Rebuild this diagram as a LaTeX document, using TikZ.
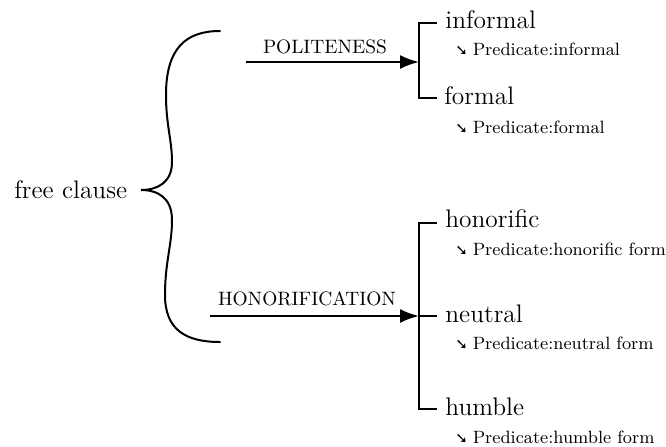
\documentclass[tikz,border=0pt]{standalone}
\usepackage{fontspec}
\newfontfamily\symfont{DejaVu Sans}
\usetikzlibrary{arrows.meta}

\tikzset{
  unit/.style={x=0.5pt, y=-0.5pt},
  term/.style={inner sep=0pt, anchor=base west, font=\fontsize{12.7}{14}\selectfont},
  sub/.style={inner sep=0pt, anchor=base west, font=\fontsize{8.9}{10}\selectfont},
  feature/.style={inner sep=0pt, anchor=base, font=\fontsize{9.7}{11}\selectfont},
  rule/.style={line width=1pt, line cap=butt, line join=miter},
  choice/.style={line width=1pt, -{Latex[length=9.5pt, width=7pt]}},
  brace/.style={line width=1pt, line cap=round}
}
\newcommand{\realiz}{{\symfont\fontsize{7.5}{7.5}\selectfont ➘}\hspace{2.4pt}}

\begin{document}
\begin{tikzpicture}[unit]
  \useasboundingbox (0,0) rectangle (666,446);

  % entry condition
  \node[term] (fc) at (14,198) {free clause};

  % the curly brace joining the two simultaneous systems
  \coordinate (tip) at (141,190);
  \coordinate (btop) at (220,31);
  \coordinate (bbot) at (220,342);
  \draw[brace] (btop)
      .. controls (186,31) and (166,48) .. (166,95)
      .. controls (166,125) and (172,140) .. (172,162)
      .. controls (172,182) and (158,190) .. (tip)
      .. controls (158,190) and (172,198) .. (172,220)
      .. controls (172,245) and (165,262) .. (165,295)
      .. controls (165,330) and (186,342) .. (bbot);

  % POLITENESS system
  \coordinate (p0) at (246,62);
  \coordinate (p1) at (419,62);
  \draw[choice] (p0) -- (p1);
  \node[feature] (pol) at (325,53) {POLITENESS};

  \coordinate (pt) at (419,23);
  \coordinate (pb) at (419,98);
  \draw[rule] (437,23) -- (pt) -- (pb) -- (437,98);
  \node[term] (inf) at (445,28) {informal};
  \node[sub] (infr) at (455,55) {\realiz Predicate:informal};
  \node[term] (frm) at (444,104) {formal};
  \node[sub] (frmr) at (455,133) {\realiz Predicate:formal};

  % HONORIFICATION system
  \coordinate (h0) at (210,316);
  \coordinate (h1) at (419,316);
  \draw[choice] (h0) -- (h1);
  \node[feature] (hon) at (307,305) {HONORIFICATION};

  \coordinate (ht) at (419,223);
  \coordinate (hb) at (419,409);
  \draw[rule] (437,223) -- (ht) -- (hb) -- (437,409);
  \draw[rule] (h1) -- (437,316);
  \node[term] (hnr) at (445,227) {honorific};
  \node[sub] (hnrr) at (455,255) {\realiz Predicate:honorific form};
  \node[term] (ntr) at (445,322) {neutral};
  \node[sub] (ntrr) at (455,349) {\realiz Predicate:neutral form};
  \node[term] (hmb) at (445,415) {humble};
  \node[sub] (hmbr) at (455,443) {\realiz Predicate:humble form};
\end{tikzpicture}
\end{document}
